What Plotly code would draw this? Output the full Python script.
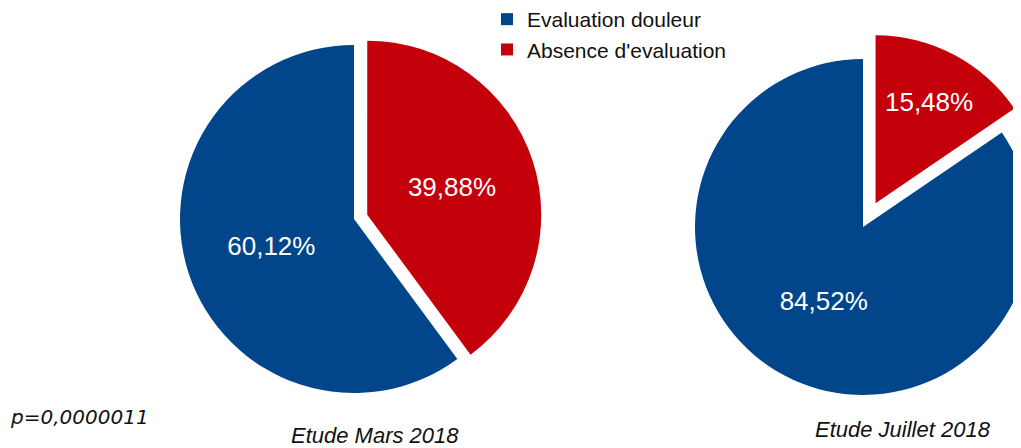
import plotly.graph_objects as go

labels = ["Evaluation douleur", "Absence d'evaluation"]
mars_values = [60.12, 39.88]
juillet_values = [84.52, 15.48]
mars_text = ["60,12%", "39,88%"]
juillet_text = ["84,52%", "15,48%"]
colors = ["#01468a", "#c4000b"]
study_titles = ["Etude Mars 2018", "Etude Juillet 2018"]
p_value_text = "p=0,0000011"

W, H = 1062, 448
OFF = 8  # page body margin

def dom(cx, cy, r, pull):
    cx -= OFF
    cy -= OFF
    half = r * (1 + pull)
    return dict(x=[(cx - half) / W, (cx + half) / W],
                y=[1 - (cy + half) / H, 1 - (cy - half) / H])

def start_angle(values):
    # first slice (blue) starts where the red slice (from 12 o'clock) ends
    return 360.0 * values[1] / sum(values)

fig = go.Figure()
fig.add_trace(go.Pie(
    labels=labels, values=mars_values, text=mars_text,
    textinfo="text", sort=False, direction="clockwise", rotation=start_angle(mars_values),
    pull=[0, 0.08], marker=dict(colors=colors, line=dict(width=0)),
    textfont=dict(family="Liberation Sans, Arial, sans-serif", size=26, color="white"),
    insidetextorientation="horizontal",
    domain=dom(354, 219, 174, 0.08), hoverinfo="label+text",
))
fig.add_trace(go.Pie(
    labels=labels, values=juillet_values, text=juillet_text,
    textinfo="text", sort=False, direction="clockwise", rotation=start_angle(juillet_values),
    pull=[0, 0.16], marker=dict(colors=colors, line=dict(width=0)),
    textfont=dict(family="Liberation Sans, Arial, sans-serif", size=26, color="white"),
    insidetextorientation="horizontal",
    domain=dom(863, 227, 168, 0.16), hoverinfo="label+text",
))

fig.add_annotation(text=study_titles[0], x=367 / W, y=1 - 427 / H, xref="paper", yref="paper",
                   showarrow=False, xanchor="center", yanchor="middle",
                   font=dict(family="Liberation Sans, Arial, sans-serif", size=22, color="#111"),)
fig.add_annotation(text=study_titles[1], x=895 / W, y=1 - 421 / H, xref="paper", yref="paper",
                   showarrow=False, xanchor="center", yanchor="middle",
                   font=dict(family="Liberation Sans, Arial, sans-serif", size=22, color="#111"))
fig.add_annotation(text=p_value_text, x=0 / W, y=1 - 409 / H, xref="paper", yref="paper",
                   showarrow=False, xanchor="left", yanchor="middle",
                   font=dict(family="DejaVu Sans, sans-serif", size=20, color="#111"))
for a in fig.layout.annotations:
    a.text = "<i>" + a.text + "</i>"

fig.update_layout(
    width=W, height=H, margin=dict(l=0, r=0, t=0, b=0, autoexpand=False),
    paper_bgcolor="white", plot_bgcolor="white",
    showlegend=True,
    legend=dict(x=479 / W, y=1 + 9 / H, xanchor="left", yanchor="top",
                font=dict(family="Liberation Sans, Arial, sans-serif", size=21, color="#111"),
                bgcolor="rgba(0,0,0,0)", tracegroupgap=0),
)
fig.write_html("out.html")
